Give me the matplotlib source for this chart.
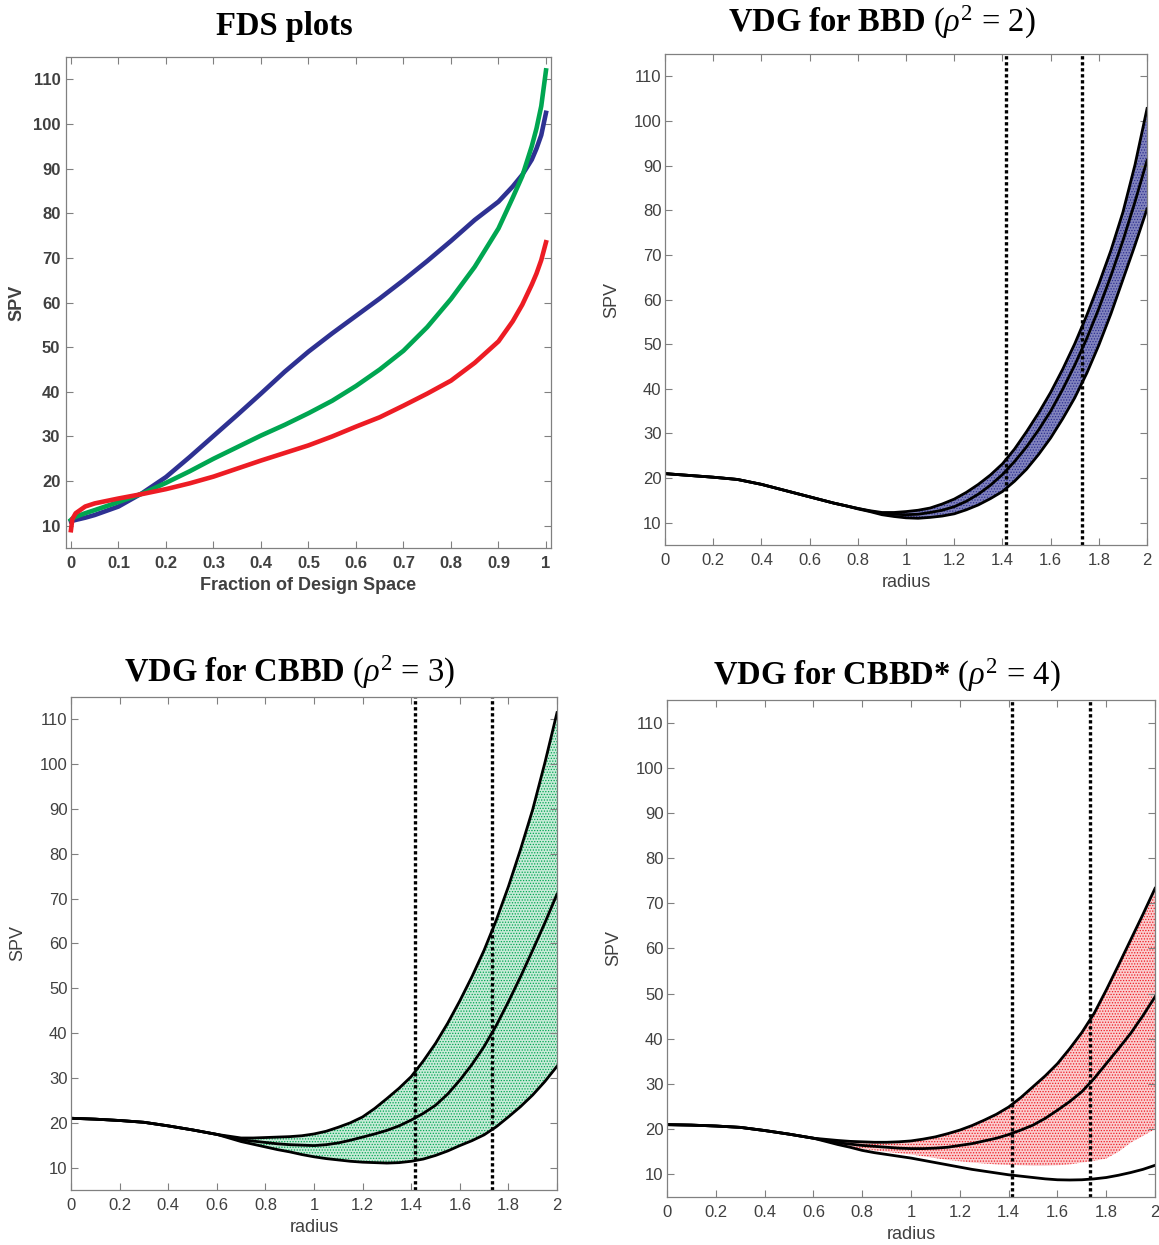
import numpy as np
import matplotlib.pyplot as plt

plt.rcParams['font.family'] = ['Liberation Sans', 'DejaVu Sans']
plt.rcParams['mathtext.fontset'] = 'custom'
plt.rcParams['mathtext.rm'] = 'Liberation Serif'
plt.rcParams['mathtext.bf'] = 'Liberation Serif:bold'
plt.rcParams['mathtext.it'] = 'Liberation Serif:italic'
plt.rcParams['hatch.linewidth'] = 0.6

# ---- FDS data (fraction of design space vs SPV) ----
frac = [0, 0.003, 0.01, 0.03, 0.05, 0.1, 0.15, 0.2, 0.25, 0.3, 0.35, 0.4, 0.45, 0.5,
        0.55, 0.6, 0.65, 0.7, 0.75, 0.8, 0.85, 0.9, 0.93, 0.95, 0.97, 0.98, 0.99, 1.0]
fds_bbd = [11.0, 11.1, 11.3, 11.8, 12.4, 14.3, 17.3, 20.9, 25.4, 30.1, 34.8, 39.6, 44.5, 49.0,
           53.1, 57.0, 60.9, 65.0, 69.3, 73.8, 78.5, 82.6, 86.0, 88.6, 92.0, 94.5, 97.5, 102.5]
fds_cbbd = [11.3, 11.6, 12.0, 12.8, 13.5, 15.3, 17.2, 19.6, 22.2, 25.0, 27.6, 30.2, 32.6, 35.2,
            38.0, 41.3, 45.0, 49.2, 54.5, 60.8, 68.0, 76.6, 83.5, 88.3, 95.0, 99.0, 104.0, 112.0]
fds_cbbds = [9.0, 11.5, 12.8, 14.3, 15.0, 16.1, 17.1, 18.2, 19.5, 21.0, 22.8, 24.6, 26.3, 28.0,
             30.0, 32.2, 34.3, 36.9, 39.6, 42.5, 46.5, 51.3, 55.8, 59.5, 64.0, 66.5, 69.5, 73.5]

# ---- VDG data (radius vs SPV) ----
radius = [0.0, 0.1, 0.2, 0.3, 0.4, 0.5, 0.6,
          0.7, 0.75, 0.8, 0.85, 0.9, 0.95, 1.0, 1.05, 1.1, 1.15, 1.2, 1.25, 1.3, 1.35, 1.4,
          1.45, 1.5, 1.55, 1.6, 1.65, 1.7, 1.75, 1.8, 1.85, 1.9, 1.95, 2.0]

bbd_max = [21.0, 20.6, 20.2, 19.7, 18.6, 17.2, 15.8,
           14.4, 13.8, 13.2, 12.7, 12.3, 12.3, 12.5, 12.8, 13.3, 14.2, 15.3, 16.8, 18.6, 20.7, 23.2,
           26.5, 30.4, 34.6, 39.2, 44.4, 50.1, 56.5, 63.5, 71.0, 79.6, 90.2, 102.8]
bbd_mean = [21.0, 20.6, 20.2, 19.7, 18.6, 17.2, 15.8,
            14.4, 13.8, 13.2, 12.6, 12.1, 11.9, 11.8, 11.9, 12.3, 12.8, 13.6, 14.8, 16.4, 18.4, 20.8,
            23.7, 27.0, 30.8, 35.0, 39.9, 45.3, 51.3, 58.0, 65.3, 73.2, 81.9, 91.2]
bbd_min = [21.0, 20.6, 20.2, 19.7, 18.6, 17.2, 15.8,
           14.4, 13.8, 13.1, 12.5, 11.8, 11.4, 11.1, 11.0, 11.2, 11.5, 12.0, 12.9, 14.0, 15.4, 17.0,
           19.3, 22.0, 25.3, 29.0, 33.3, 38.0, 43.5, 49.8, 56.8, 64.5, 72.2, 80.3]

cbbd_max = [21.0, 20.8, 20.5, 20.1, 19.3, 18.4, 17.4,
            16.6, 16.6, 16.7, 16.8, 16.9, 17.1, 17.5, 18.1, 19.0, 20.0, 21.3, 23.2, 25.4, 27.7, 30.3,
            33.8, 37.7, 42.2, 47.2, 52.6, 58.5, 65.2, 72.7, 81.0, 89.9, 100.3, 111.5]
cbbd_mean = [21.0, 20.8, 20.5, 20.1, 19.3, 18.4, 17.4,
             16.2, 15.9, 15.6, 15.3, 15.1, 15.0, 14.9, 15.1, 15.5, 16.1, 16.8, 17.5, 18.3, 19.3, 20.6,
             22.1, 23.9, 26.4, 29.5, 33.0, 37.0, 41.7, 47.0, 52.6, 58.5, 64.6, 71.0]
cbbd_min = [21.0, 20.8, 20.5, 20.1, 19.3, 18.4, 17.4,
            15.8, 15.2, 14.6, 14.0, 13.5, 12.9, 12.4, 12.0, 11.7, 11.4, 11.2, 11.1, 11.0, 11.1, 11.4,
            11.9, 12.7, 13.7, 14.9, 16.0, 17.3, 19.1, 21.3, 23.6, 26.2, 29.2, 32.6]

cbbds_max = [21.0, 20.9, 20.7, 20.4, 19.7, 18.9, 18.0,
             17.5, 17.3, 17.2, 17.1, 17.1, 17.2, 17.4, 17.8, 18.3, 19.0, 19.8, 20.8, 22.0, 23.3, 24.9,
             27.0, 29.4, 31.8, 34.5, 37.8, 41.4, 45.6, 50.8, 56.3, 61.9, 67.5, 73.3]
cbbds_mean = [21.0, 20.9, 20.7, 20.4, 19.7, 18.9, 18.0,
              17.0, 16.7, 16.4, 16.2, 16.0, 15.8, 15.7, 15.7, 15.8, 16.0, 16.4, 16.8, 17.4, 18.0, 18.8,
              19.8, 20.9, 22.4, 24.2, 26.1, 28.3, 31.2, 34.5, 37.8, 41.2, 45.1, 49.3]
cbbds_min = [21.0, 20.9, 20.7, 20.4, 19.7, 18.9, 18.0,
             16.6, 16.0, 15.3, 14.8, 14.4, 14.0, 13.6, 13.1, 12.6, 12.1, 11.6, 11.1, 10.7, 10.3, 9.9,
             9.6, 9.3, 9.0, 8.8, 8.75, 8.8, 9.0, 9.3, 9.8, 10.4, 11.1, 12.0]
# lower edge of the red point cloud (the points do not reach the min curve)
cbbds_cloud_lo = [21.0, 20.9, 20.7, 20.4, 19.7, 18.9, 18.0,
                  16.6, 16.1, 15.6, 15.3, 15.0, 14.7, 14.4, 14.0, 13.6, 13.2, 12.9, 12.6, 12.4, 12.2,
                  12.1, 12.0, 11.9, 11.9, 12.0, 12.2, 12.6, 13.0, 13.5, 15.0, 17.0, 18.5, 20.0]

c_blue = '#2e3192'
c_green = '#00a651'
c_red = '#ed1c24'
tick_col = '#404040'
spine_col = '#808080'

fig = plt.figure(figsize=(11.59, 12.45), dpi=100)


def style_axes(ax, bold=False, ypad=3):
    w = 'bold' if bold else 'normal'
    ax.set_ylim(5, 115)
    ax.set_yticks(np.arange(10, 111, 10))
    ax.tick_params(direction='in', top=True, right=True, length=5, width=0.8,
                   colors=spine_col, labelcolor=tick_col, labelsize=12, pad=6)
    ax.tick_params(axis='y', pad=ypad)
    for lab in ax.get_xticklabels() + ax.get_yticklabels():
        lab.set_fontweight(w)
    for s in ax.spines.values():
        s.set_color(spine_col)
        s.set_linewidth(0.9)


def put_title(ax, text, pad, bold=False):
    t = ax.set_title(text, fontsize=23.5, family='Liberation Serif', pad=pad,
                     fontweight='bold' if bold else 'normal')
    t.set_x(0.45)


# ---- FDS plots ----
ax1 = fig.add_axes([0.0569, 0.5598, 0.4185, 0.3944])
ax1.plot(frac, fds_bbd, color=c_blue, lw=3.3)
ax1.plot(frac, fds_cbbd, color=c_green, lw=3.3)
ax1.plot(frac, fds_cbbds, color=c_red, lw=3.3)
ax1.set_xlim(-0.0105, 1.0105)
ax1.set_xticks(np.arange(0, 1.01, 0.1))
ax1.set_xticklabels(['0', '0.1', '0.2', '0.3', '0.4', '0.5', '0.6', '0.7', '0.8', '0.9', '1'])
style_axes(ax1, bold=True, ypad=4)
ax1.set_xlabel('Fraction of Design Space', fontsize=13, fontweight='bold', color=tick_col, labelpad=4)
ax1.set_ylabel('SPV', fontsize=13, fontweight='bold', color=tick_col, labelpad=5)
put_title(ax1, 'FDS plots', 16, bold=True)


def vdg(ax, vmax, vmean, vmin, lo, color, alpha, title, pad):
    ax.fill_between(radius, lo, vmax, facecolor=color, alpha=alpha, lw=0)
    ax.fill_between(radius, lo, vmax, facecolor='none', edgecolor=color, hatch='......', lw=0)
    for v in (vmax, vmean, vmin):
        ax.plot(radius, v, color='black', lw=2.0)
    ax.axvline(np.sqrt(2), color='black', ls=(0, (1, 0.8)), lw=2.4)
    ax.axvline(np.sqrt(3), color='black', ls=(0, (1, 0.8)), lw=2.4)
    ax.set_xlim(0, 2)
    ax.set_xticks(np.arange(0, 2.01, 0.2))
    ax.set_xticklabels(['0', '0.2', '0.4', '0.6', '0.8', '1', '1.2', '1.4', '1.6', '1.8', '2'])
    style_axes(ax, ypad=2.5)
    ax.set_xlabel('radius', fontsize=13, color=tick_col, labelpad=4)
    ax.set_ylabel('SPV', fontsize=13, color=tick_col, labelpad=10)
    put_title(ax, title, pad)


ax2 = fig.add_axes([0.5738, 0.5622, 0.4159, 0.3944])
vdg(ax2, bbd_max, bbd_mean, bbd_min, bbd_min, c_blue, 0.6,
    r'$\mathbf{VDG\ for\ BBD}$ ($\rho^2$ = 2)', 16)

ax3 = fig.add_axes([0.0613, 0.0442, 0.4193, 0.396])
vdg(ax3, cbbd_max, cbbd_mean, cbbd_min, cbbd_min, c_green, 0.22,
    r'$\mathbf{VDG\ for\ CBBD}$ ($\rho^2$ = 3)', 11)

ax4 = fig.add_axes([0.5755, 0.0386, 0.4211, 0.3992])
vdg(ax4, cbbds_max, cbbds_mean, cbbds_min, cbbds_cloud_lo, c_red, 0.22,
    r'$\mathbf{VDG\ for\ CBBD{*}}$ ($\rho^2$ = 4)', 11)

fig.savefig('out.png', dpi=100)
